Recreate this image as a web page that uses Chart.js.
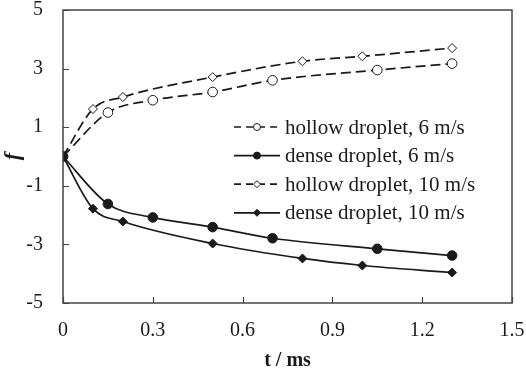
<!DOCTYPE html>
<html><head><meta charset="utf-8">
<script src="https://cdn.jsdelivr.net/npm/chart.js@4/dist/chart.umd.min.js"></script>
<style>html,body{margin:0;padding:0;background:#fff}#wrap{width:526px;height:368px}</style>
</head><body><div id="wrap"><canvas id="c" width="526" height="368"></canvas></div>
<script>
// Data
const seriesNames = ['hollow droplet, 6 m/s','dense droplet, 6 m/s','hollow droplet, 10 m/s','dense droplet, 10 m/s'];
const hollow6T = [0, 0.15, 0.3, 0.5, 0.7, 1.05, 1.3];
const hollow6F = [0, 1.5, 1.92, 2.2, 2.6, 2.95, 3.17];
const dense6T  = [0, 0.15, 0.3, 0.5, 0.7, 1.05, 1.3];
const dense6F  = [0, -1.62, -2.08, -2.41, -2.79, -3.15, -3.38];
const hollow10T = [0, 0.1, 0.2, 0.5, 0.8, 1.0, 1.3];
const hollow10F = [0, 1.62, 2.03, 2.71, 3.25, 3.42, 3.7];
const dense10T  = [0, 0.1, 0.2, 0.5, 0.8, 1.0, 1.3];
const dense10F  = [0, -1.78, -2.22, -2.97, -3.48, -3.72, -3.96];
const xTicks = [0, 0.3, 0.6, 0.9, 1.2, 1.5];
const xTickLabels = ['0','0.3','0.6','0.9','1.2','1.5'];
const yTicks = [-5, -3, -1, 1, 3, 5];
const yTickLabels = ['-5','-3','-1','1','3','5'];

const pts = (xs, ys) => xs.map((x, i) => ({x, y: ys[i]}));
const INK = '#1a1a1a';
const FONT = "'Liberation Serif', 'Times New Roman', serif";

function ds(label, data, dashed, style, filled, order) {
  return {
    label, data, order,
    borderColor: INK, borderWidth: 1.7,
    borderDash: dashed ? [10, 5] : [],
    pointStyle: style,
    pointRadius: style === 'circle' ? 4.8 : 4.5,
    pointBackgroundColor: filled ? INK : '#fff',
    pointBorderColor: INK, pointBorderWidth: 1,
    cubicInterpolationMode: 'monotone',
    fill: false
  };
}

const frameAndTicks = {
  id: 'frameAndTicks',
  afterDraw(chart) {
    const {ctx, chartArea: a, scales: {x, y}} = chart;
    ctx.save();
    ctx.strokeStyle = '#444';
    ctx.lineWidth = 1.5;
    ctx.setLineDash([]);
    ctx.strokeRect(a.left, a.top, a.right - a.left, a.bottom - a.top);
    ctx.lineWidth = 1.2;
    ctx.beginPath();
    xTicks.forEach(v => { const px = Math.round(x.getPixelForValue(v)) + 0.5; ctx.moveTo(px, a.bottom); ctx.lineTo(px, a.bottom - 6); });
    yTicks.forEach(v => { const py = Math.round(y.getPixelForValue(v)) + 0.5; ctx.moveTo(a.left, py); ctx.lineTo(a.left + 6, py); });
    ctx.stroke();
    // legend
    const x0 = 234, y0 = 127, rowH = 28.6;
    chart.data.datasets.forEach((d, i) => {
      const cy = y0 + i * rowH;
      ctx.strokeStyle = d.borderColor; ctx.lineWidth = d.borderWidth;
      ctx.setLineDash(d.borderDash.length ? [7, 5] : []);
      ctx.beginPath(); ctx.moveTo(x0, cy); ctx.lineTo(x0 + 46, cy); ctx.stroke();
      ctx.setLineDash([]);
      ctx.fillStyle = d.pointBackgroundColor; ctx.strokeStyle = d.pointBorderColor; ctx.lineWidth = 1;
      Chart.helpers.drawPoint(ctx, {pointStyle: d.pointStyle, radius: 3.5, borderWidth: 1}, x0 + 23, cy);
      ctx.fillStyle = INK;
      ctx.font = '21px ' + FONT;
      ctx.textBaseline = 'middle'; ctx.textAlign = 'left';
      ctx.fillText(d.label, x0 + 51, cy + 1);
    });
    ctx.restore();
  }
};

new Chart(document.getElementById('c'), {
  type: 'line',
  data: {
    datasets: [
      ds(seriesNames[0], pts(hollow6T, hollow6F), true, 'circle', false, 2),
      ds(seriesNames[1], pts(dense6T, dense6F), false, 'circle', true, 0),
      ds(seriesNames[2], pts(hollow10T, hollow10F), true, 'rectRot', false, 3),
      ds(seriesNames[3], pts(dense10T, dense10F), false, 'rectRot', true, 1)
    ]
  },
  options: {
    responsive: false, animation: false,
    layout: {padding: {top: 10, right: 14, left: 0, bottom: 0}},
    plugins: {legend: {display: false}, tooltip: {enabled: false}},
    scales: {
      x: {
        type: 'linear', min: 0, max: 1.5,
        afterBuildTicks: s => { s.ticks = xTicks.map(v => ({value: v})); },
        afterFit: s => { s.height = 65; s.paddingLeft = 0; s.paddingRight = 0; s.paddingTop = 0; s.paddingBottom = 0; },
        grid: {display: false, drawTicks: false},
        border: {display: false},
        ticks: {padding: 16, color: INK, font: {family: FONT, size: 20}, maxRotation: 0, autoSkip: false,
          callback: (v, i) => xTickLabels[i]},
        title: {display: true, text: 't / ms', color: INK, font: {family: FONT, size: 20, weight: 'bold'}, padding: {top: 0, bottom: -5}}
      },
      y: {
        type: 'linear', min: -5, max: 5,
        afterBuildTicks: s => { s.ticks = yTicks.map(v => ({value: v})); },
        afterFit: s => { s.width = 63; s.paddingLeft = 0; s.paddingRight = 0; s.paddingTop = 0; s.paddingBottom = 0; },
        grid: {display: false, drawTicks: false},
        border: {display: false},
        ticks: {padding: 20, color: INK, font: {family: FONT, size: 20}, autoSkip: false,
          callback: (v, i) => yTickLabels[i]},
        title: {display: true, text: 'f', color: INK, font: {family: FONT, size: 22, style: 'italic', weight: 'bold'}, padding: {top: 0, bottom: 0}}
      }
    }
  },
  plugins: [frameAndTicks]
});
</script>
</body></html>
